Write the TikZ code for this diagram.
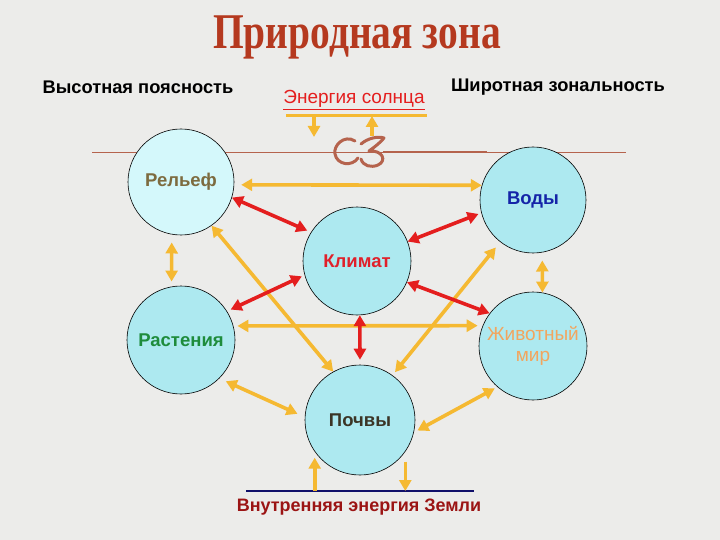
\documentclass[tikz,border=0pt]{standalone}
\usepackage{fontspec}
\setmainfont{Liberation Sans}
\newfontfamily\titlefont{Liberation Serif}
\usetikzlibrary{arrows.meta,calc,positioning}

\definecolor{bgcol}{HTML}{ECECEA}
\definecolor{goldline}{HTML}{F5B932}
\definecolor{redline}{HTML}{E41E1E}
\definecolor{zonefill}{HTML}{ADE9F0}
\definecolor{relieffill}{HTML}{D4F8FB}
\definecolor{relieftext}{HTML}{7D6B3F}
\definecolor{watertext}{HTML}{1424A8}
\definecolor{climtext}{HTML}{E0202A}
\definecolor{planttext}{HTML}{1E8C3C}
\definecolor{faunatext}{HTML}{F2A55E}
\definecolor{soiltext}{HTML}{3B3526}
\definecolor{earthtext}{HTML}{9B1414}
\definecolor{navyline}{HTML}{10106A}
\definecolor{titlecol}{HTML}{B5391F}
\definecolor{ornline}{HTML}{B5634D}

\tikzset{
  zone/.style={circle,draw=black,line width=0.6pt,fill=zonefill,minimum size=106pt,
    inner sep=0pt,font=\fontsize{18.5}{21}\selectfont\bfseries},
  goldlink/.style={draw=goldline,line width=3.6pt,
    {Triangle[length=11pt,width=12pt]}-{Triangle[length=11pt,width=12pt]}},
  redlink/.style={goldlink,draw=redline},
  goldone/.style={draw=goldline,line width=3.6pt,-{Triangle[length=11pt,width=12pt]}},
  header/.style={font=\fontsize{18.3}{21}\selectfont\bfseries},
}

\begin{document}
\begin{tikzpicture}[x=1pt,y=-1pt]

% --- sfondo
\fill[bgcol] (0,0) rectangle (720,540);

% --- titolo e intestazioni
\node[text=titlecol,font=\titlefont\fontsize{50}{50}\selectfont\bfseries,xscale=0.79] (title) at (357,37) {Природная зона};
\node[header] (altitude) at (138,87) {Высотная поясность};
\node[header] (latitude) at (558,87) {Широтная зональность};
\node[text=redline,font=\fontsize{19}{21}\selectfont] (sun) at (354,100) {\underline{Энергия солнца}};

% --- linea e ornamento
\draw[ornline,line width=0.8pt] (92,152) -- (626,152);
\draw[ornline,line width=1.8pt] (383,152) -- (487,152);
\draw[ornline,line width=3pt,line cap=round]
  (355,141) .. controls (344,134) and (333,146) .. (335,154)
  .. controls (337,165) and (352,167) .. (358,158);
\draw[ornline,line width=3pt,line cap=round,line join=round]
  (361,144) .. controls (368,138) and (378,136) .. (384,138)
  .. controls (379,144) and (373,148) .. (369,151)
  .. controls (383,150) and (387,161) .. (378,165)
  .. controls (371,168) and (363,166) .. (361,159);

% --- energia del sole
\coordinate (sunL) at (286,116);
\coordinate (sunR) at (427,116);
\draw[goldline,line width=3pt] (sunL) -- (sunR);
\draw[goldone] ($(sunL)+(28,0)$) -- ++(0,21);
\draw[goldone] ($(sunL)+(86,20)$) -- ($(sunL)+(86,0)$);

% --- cerchi
\node[zone,fill=relieffill,text=relieftext] (relief) at (181,182) {Рельеф};
\node[zone,text=watertext] (water) at (533,200) {Воды};
\node[zone,minimum size=108pt,text=climtext] (climate) at (357,261) {Климат};
\node[zone,minimum size=108pt,text=planttext] (plants) at (181,340) {Растения};
\node[zone,minimum size=108pt,text=faunatext,align=center,
  font=\fontsize{19}{21}\selectfont] (fauna) at (533,346) {Животный\\мир};
\node[zone,minimum size=110pt,text=soiltext] (soil) at (360,420) {Почвы};

% --- collegamenti gialli
\draw[goldlink,shorten <=7pt] (relief.-3) -- (water.164);
\draw[goldlink,shorten <=8pt,shorten >=5pt] (relief.260) -- (plants.100);
\draw[goldlink,shorten <=8pt] (water.-80) -- (fauna.80);
\draw[goldlink,shorten <=4pt,shorten >=5pt] (plants.15) -- (fauna.158);
\draw[goldlink] (relief.-55) -- (soil.119);
\draw[goldlink,shorten <=7pt,shorten >=4pt] (water.-128) -- (soil.54);
\draw[goldlink,shorten <=7pt,shorten >=8pt] (plants.-45) -- (soil.177);
\draw[goldlink,shorten <=3pt,shorten >=4pt] (fauna.-131) -- (soil.-13);

% --- collegamenti rossi (clima)
\draw[redlink,shorten >=4pt] (relief.-17) -- (climate.148);
\draw[redlink,shorten >=3pt] (climate.21) -- (water.-166);
\draw[redlink,shorten <=3pt,shorten >=4pt] (climate.-165) -- (plants.32);
\draw[redlink] (climate.-23) -- (fauna.143);
\draw[redlink,shorten >=5pt] (climate.-87) -- (soil.90);

% --- energia interna della Terra
\coordinate (earthL) at (246,491);
\coordinate (earthR) at (474,491);
\draw[navyline,line width=2.8pt] (earthL) -- (earthR);
\draw[goldone] ($(soil.-35)+(0,10)$) -- (soil.-35 |- earthL);
\draw[goldone] (soil.-145 |- earthL) -- ($(soil.-145)+(0,6)$);
\node[text=earthtext,font=\fontsize{18}{20}\selectfont\bfseries] (earth) at (359,507) {Внутренняя энергия Земли};

\end{tikzpicture}
\end{document}
